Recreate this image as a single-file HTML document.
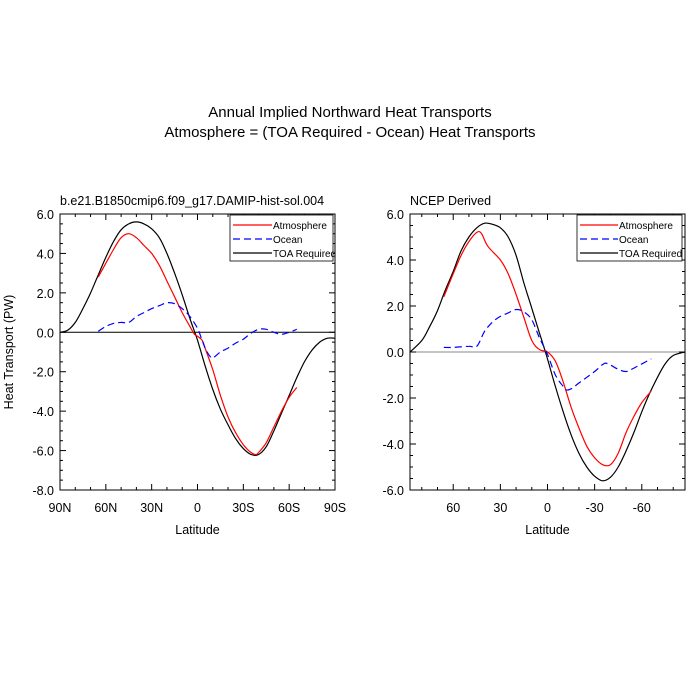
<!DOCTYPE html>
<html><head><meta charset="utf-8"><style>
body{margin:0;background:#fff}
svg{display:block;font-family:"Liberation Sans",sans-serif}
</style></head><body>
<svg id="s" width="700" height="700">
<text x="350" y="117" font-size="15" text-anchor="middle">Annual Implied Northward Heat Transports</text>
<text x="350" y="137" font-size="15" text-anchor="middle">Atmosphere = (TOA Required - Ocean) Heat Transports</text>
</svg>
<script>
const leftLatTOA=[90,85,80,75,70,65,60,55,50,45,40,35,30,25,20,15,10,5,0,-5,-10,-15,-20,-25,-30,-35,-40,-45,-50,-55,-60,-65,-70,-75,-80,-85,-90];
const leftTOA=[0,0.1,0.5,1.2,2.0,2.9,3.8,4.6,5.2,5.5,5.6,5.5,5.25,4.8,4.0,3.0,1.9,0.7,-0.4,-1.7,-2.9,-3.9,-4.7,-5.4,-5.9,-6.2,-6.2,-5.8,-5.0,-4.1,-3.2,-2.3,-1.5,-0.9,-0.5,-0.3,-0.3];
const leftLatAtm=[65,60,55,50,45,40,35,30,25,20,15,10,5,2,0,-3,-5,-10,-15,-20,-25,-30,-35,-38,-40,-45,-50,-55,-60,-65];
const leftAtm=[2.8,3.5,4.2,4.8,5.0,4.8,4.4,4.0,3.4,2.6,1.8,1.0,0.3,-0.1,-0.2,-0.4,-0.8,-1.9,-3.2,-4.3,-5.1,-5.7,-6.1,-6.2,-6.1,-5.6,-4.8,-4.0,-3.3,-2.8];
const leftLatOcn=[65,60,55,50,45,40,35,30,25,20,15,10,5,0,-3,-5,-8,-10,-15,-20,-25,-30,-35,-40,-45,-50,-55,-60,-65];
const leftOcn=[0.05,0.3,0.45,0.5,0.5,0.8,1.0,1.2,1.35,1.5,1.45,1.2,0.8,0.2,-0.4,-0.8,-1.2,-1.3,-1.0,-0.8,-0.55,-0.35,-0.05,0.15,0.15,0.0,-0.1,0.0,0.15];
const rightLatTOA=[87.5,80,75,70,65,60,55,50,45,40,35,30,25,20,15,10,5,0,-5,-10,-15,-20,-25,-30,-35,-40,-45,-50,-55,-60,-65,-70,-75,-80,-87.5];
const rightTOA=[0,0.5,1.1,1.8,2.7,3.5,4.4,5.0,5.4,5.6,5.55,5.4,5.0,4.2,3.0,1.9,0.8,-0.3,-1.5,-2.6,-3.6,-4.4,-5.0,-5.4,-5.6,-5.45,-5.0,-4.3,-3.5,-2.6,-1.8,-1.1,-0.5,-0.15,0];
const rightLatAtm=[66,60,55,50,45,42,38,30,25,20,15,10,5,0,-5,-10,-15,-20,-25,-30,-35,-40,-45,-50,-55,-60,-66];
const rightAtm=[2.4,3.4,4.2,4.8,5.2,5.15,4.6,4.0,3.4,2.5,1.5,0.5,0.1,0,-0.4,-1.3,-2.4,-3.3,-4.1,-4.6,-4.9,-4.9,-4.4,-3.5,-2.8,-2.2,-1.7];
const rightLatOcn=[66,60,50,45,40,35,30,25,20,15,10,5,0,-5,-10,-12,-15,-20,-25,-30,-35,-38,-45,-50,-55,-66];
const rightOcn=[0.2,0.2,0.25,0.25,0.9,1.3,1.55,1.7,1.85,1.75,1.4,0.6,-0.1,-1.0,-1.5,-1.65,-1.6,-1.35,-1.1,-0.85,-0.55,-0.5,-0.75,-0.85,-0.7,-0.3];
const leftXTicks=[90,60,30,0,-30,-60,-90];
const leftXLabels=["90N","60N","30N","0","30S","60S","90S"];
const rightXTicks=[60,30,0,-30,-60];
const rightXLabels=["60","30","0","-30","-60"];

const NS="http://www.w3.org/2000/svg";
const svg=document.getElementById('s');
function mk(tag,attrs,parent,txt){const e=document.createElementNS(NS,tag);for(const k in attrs)e.setAttribute(k,attrs[k]);if(txt!==undefined)e.textContent=txt;(parent||svg).appendChild(e);return e;}
function smooth(pts){let d='M'+pts[0][0].toFixed(1)+','+pts[0][1].toFixed(1);for(let i=0;i<pts.length-1;i++){const p0=pts[i-1]||pts[i],p1=pts[i],p2=pts[i+1],p3=pts[i+2]||p2;const c1=[p1[0]+(p2[0]-p0[0])/6,p1[1]+(p2[1]-p0[1])/6],c2=[p2[0]-(p3[0]-p1[0])/6,p2[1]-(p3[1]-p1[1])/6];d+='C'+c1[0].toFixed(1)+','+c1[1].toFixed(1)+' '+c2[0].toFixed(1)+','+c2[1].toFixed(1)+' '+p2[0].toFixed(1)+','+p2[1].toFixed(1);}return d;}

function panel(o){
  const g=mk('g',{});
  
  
  const X=v=>o.x0+(o.xmax-v)/(o.xmax-o.xmin)*(o.x1-o.x0);
  const Y=v=>o.y0+(o.ymax-v)/(o.ymax-o.ymin)*(o.y1-o.y0);
  const z=mk('line',{x1:o.x0,x2:o.x1,y1:Y(0),y2:Y(0),stroke:o.zeroColor,'stroke-width':1},g);
  
  
  const ser=[[o.latT,o.toa,'#000','','toa-required-line'],[o.latA,o.atm,'#f00','','atmosphere-line'],[o.latO,o.ocn,'#00f','7,4','ocean-line']];
  ser.forEach(s=>{const p=mk('path',{d:smooth(s[0].map((la,i)=>[X(la),Y(s[1][i])])),fill:'none',stroke:s[2],'stroke-width':1.2,'stroke-dasharray':s[3]},g);
    
    });
  const f=mk('rect',{x:o.x0,y:o.y0,width:o.x1-o.x0,height:o.y1-o.y0,fill:'none',stroke:'#000','stroke-width':1},g);
  
  
  for(let v=o.ymin;v<=o.ymax+1e-9;v+=0.5){const y=Y(v);const maj=Math.abs(v/2-Math.round(v/2))<1e-9;const L=maj?6:3;
    mk('line',{x1:o.x0,x2:o.x0+L,y1:y,y2:y,stroke:'#000'},g);mk('line',{x1:o.x1,x2:o.x1-L,y1:y,y2:y,stroke:'#000'},g);
    if(maj){const t=mk('text',{x:o.x0-6,y:y+5,'font-size':12.5,'text-anchor':'end'},g,v.toFixed(1));
      
      }}
  for(let v=-90;v<=90;v+=10){if(v<o.xmin-1e-9||v>o.xmax+1e-9)continue;const x=X(v);const maj=v%30===0;const L=maj?6:3;
    mk('line',{x1:x,x2:x,y1:o.y1,y2:o.y1-L,stroke:'#000'},g);mk('line',{x1:x,x2:x,y1:o.y0,y2:o.y0+L,stroke:'#000'},g);}
  o.xt.forEach((v,i)=>{const t=mk('text',{x:X(v),y:o.y1+22,'font-size':12.5,'text-anchor':'middle'},g,o.xl[i]);
    
    });
  const xt=mk('text',{x:(o.x0+o.x1)/2,y:o.y1+44,'font-size':12.5,'text-anchor':'middle'},g,'Latitude');
  
  
  const st=mk('text',{x:o.x0,y:o.y0-9,'font-size':12.5},g,o.sub);
  
  
  const lg=mk('g',{},g);
  
  
  mk('rect',{x:o.lx,y:o.y0+1,width:o.lw,height:46,fill:'#fff',stroke:'#000','stroke-width':0.8},lg);
  [['Atmosphere','#f00',''],['Ocean','#00f','7,4'],['TOA Required','#000','']].forEach((e,i)=>{const yy=o.y0+11+i*14;
    mk('line',{x1:o.lx+3,x2:o.lx+o.lsw,y1:yy,y2:yy,stroke:e[1],'stroke-width':1.2,'stroke-dasharray':e[2]},lg);
    const t=mk('text',{x:o.lx+o.lsw+1,y:yy+4,'font-size':10},lg,e[0]);
    
    });
}
panel({name:'left-panel',x0:60,x1:335,y0:214,y1:490,xmin:-90,xmax:90,ymin:-8,ymax:6,latT:leftLatTOA,toa:leftTOA,latA:leftLatAtm,atm:leftAtm,latO:leftLatOcn,ocn:leftOcn,xt:leftXTicks,xl:leftXLabels,zeroColor:'#000',sub:'b.e21.B1850cmip6.f09_g17.DAMIP-hist-sol.004',lx:230,lw:103,lsw:42});
panel({name:'right-panel',x0:410,x1:685,y0:214,y1:490,xmin:-87.5,xmax:87.5,ymin:-6,ymax:6,latT:rightLatTOA,toa:rightTOA,latA:rightLatAtm,atm:rightAtm,latO:rightLatOcn,ocn:rightOcn,xt:rightXTicks,xl:rightXLabels,zeroColor:'#888',sub:'NCEP Derived',lx:577,lw:105,lsw:41});
const yt=mk('text',{x:0,y:0,'font-size':12.5,'text-anchor':'middle',transform:'translate(13,352) rotate(-90)'},svg,'Heat Transport (PW)');


</script>
</body></html>
